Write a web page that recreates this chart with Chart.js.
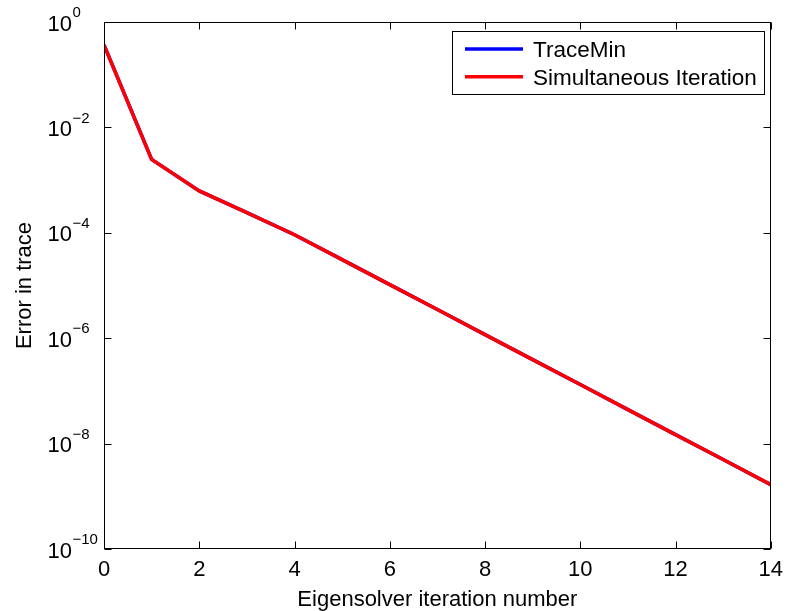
<!DOCTYPE html>
<html>
<head>
<meta charset="utf-8">
<title>Error in trace</title>
<script src="https://cdn.jsdelivr.net/npm/chart.js@4/dist/chart.umd.min.js"></script>
<style>
  html, body { margin: 0; padding: 0; background: #fff; }
  canvas { display: block; }
</style>
</head>
<body>
<canvas id="chart-canvas" width="791" height="611"></canvas>
<script>
// values
const iterations = [0, 1, 2, 3, 4, 5, 6, 7, 8, 9, 10, 11, 12, 13, 14]
const traceMinError = [0.366, 2.47e-3, 6.25e-4, 2.41e-4, 9.2e-5, 3.1e-5, 1.04e-5, 3.5e-6, 1.17e-6, 3.92e-7, 1.32e-7, 4.42e-8, 1.48e-8, 5.0e-9, 1.66e-9]
const simultaneousError = [0.366, 2.47e-3, 6.25e-4, 2.41e-4, 9.2e-5, 3.1e-5, 1.04e-5, 3.5e-6, 1.17e-6, 3.92e-7, 1.32e-7, 4.42e-8, 1.48e-8, 5.0e-9, 1.66e-9]
const yTickValues = [1, 1e-2, 1e-4, 1e-6, 1e-8, 1e-10]
const yTickExponents = ['0', '\u22122', '\u22124', '\u22126', '\u22128', '\u221210']

const FONT = '"Liberation Sans", Arial, Helvetica, sans-serif'

const toPoints = (ys) => iterations.map((x, i) => ({ x: x, y: ys[i] }))

// frame, inward ticks, y labels with exponents and the boxed legend
const matlabAxes = {
  id: 'matlabAxes',
  afterDatasetsDraw(chart) {
    const ctx = chart.ctx
    const area = chart.chartArea
    const xs = chart.scales.x
    const ys = chart.scales.y
    const L = Math.round(area.left) + 0.5
    const R = Math.round(area.right) - 0.5
    const T = Math.round(area.top) + 0.5
    const B = Math.round(area.bottom) - 0.5
    const tick = 7

    ctx.save()
    ctx.strokeStyle = '#000'
    ctx.lineWidth = 1
    ctx.strokeRect(L, T, R - L, B - T)

    ctx.beginPath()
    xs.ticks.forEach(t => {
      const px = Math.round(xs.getPixelForValue(t.value)) + 0.5
      ctx.moveTo(px, B); ctx.lineTo(px, B - tick)
      ctx.moveTo(px, T); ctx.lineTo(px, T + tick)
    })
    ys.ticks.forEach(t => {
      const py = Math.round(ys.getPixelForValue(t.value)) + 0.5
      ctx.moveTo(L, py); ctx.lineTo(L + tick, py)
      ctx.moveTo(R, py); ctx.lineTo(R - tick, py)
    })
    ctx.stroke()

    // y tick labels: "10" plus raised exponent
    ctx.fillStyle = '#000'
    ctx.textBaseline = 'alphabetic'
    ys.ticks.forEach(t => {
      const py = ys.getPixelForValue(t.value)
      const idx = yTickValues.indexOf(t.value)
      ctx.font = '22px ' + FONT
      ctx.textAlign = 'right'
      ctx.fillText('10', 72, py + 8.5)
      ctx.font = '15px ' + FONT
      ctx.textAlign = 'left'
      ctx.fillText(yTickExponents[idx], 72.5, py + 8.5 - 13.4)
    })

    // legend
    const box = { left: 452.5, top: 31.5, right: 764.5, bottom: 94.5 }
    ctx.fillStyle = '#fff'
    ctx.fillRect(box.left, box.top, box.right - box.left, box.bottom - box.top)
    ctx.strokeStyle = '#000'
    ctx.lineWidth = 1
    ctx.strokeRect(box.left, box.top, box.right - box.left, box.bottom - box.top)
    const rows = [49, 76.7]
    chart.data.datasets.forEach((ds, i) => {
      ctx.strokeStyle = ds.borderColor
      ctx.lineWidth = 3.5
      ctx.beginPath()
      ctx.moveTo(465, rows[i])
      ctx.lineTo(523, rows[i])
      ctx.stroke()
      ctx.fillStyle = '#000'
      ctx.font = '22.5px ' + FONT
      ctx.textAlign = 'left'
      ctx.fillText(ds.label, 533, rows[i] + 8)
    })
    ctx.restore()
  }
}

const chart = new Chart(document.getElementById('chart-canvas'), {
  type: 'line',
  data: {
    datasets: [
      {
        label: 'TraceMin',
        data: toPoints(traceMinError),
        borderColor: '#0000ff',
        backgroundColor: '#0000ff',
        borderWidth: 3.5,
        pointRadius: 0,
        fill: false,
        order: 1
      },
      {
        label: 'Simultaneous Iteration',
        data: toPoints(simultaneousError),
        borderColor: '#ff0000',
        backgroundColor: '#ff0000',
        borderWidth: 3.5,
        pointRadius: 0,
        fill: false,
        order: 0
      }
    ]
  },
  options: {
    responsive: false,
    animation: false,
    devicePixelRatio: 1,
    layout: { padding: { left: 0, top: 22, right: 17, bottom: 0 } },
    plugins: {
      legend: { display: false },
      tooltip: { enabled: false }
    },
    scales: {
      x: {
        type: 'linear',
        min: 0,
        max: 14,
        grid: { display: false, drawTicks: false },
        border: { display: false },
        ticks: {
          stepSize: 2,
          color: '#000',
          padding: 8,
          maxRotation: 0,
          font: { family: FONT, size: 22 }
        },
        title: {
          display: true,
          text: 'Eigensolver iteration number',
          color: '#000',
          padding: 0,
          font: { family: FONT, size: 22, lineHeight: 1 }
        },
        afterFit(scale) { scale.height = 62 }
      },
      y: {
        type: 'logarithmic',
        min: 1e-10,
        max: 1,
        grid: { display: false, drawTicks: false },
        border: { display: false },
        ticks: { display: false },
        afterBuildTicks(scale) {
          scale.ticks = yTickValues.map(v => ({ value: v }))
        },
        title: {
          display: true,
          text: 'Error in trace',
          color: '#000',
          padding: { top: 14, bottom: 0 },
          font: { family: FONT, size: 22, lineHeight: 1 }
        },
        afterFit(scale) { scale.width = 104 }
      }
    }
  },
  plugins: [matlabAxes]
})
</script>
</body>
</html>
